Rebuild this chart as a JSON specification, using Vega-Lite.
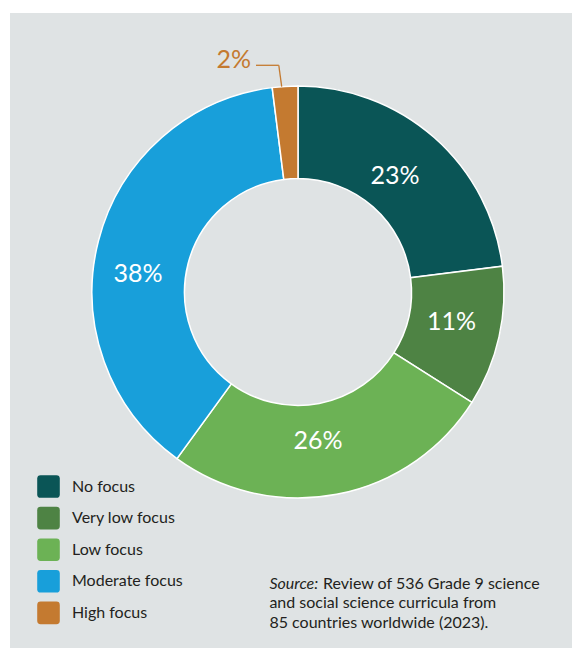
{
  "$schema": "https://vega.github.io/schema/vega-lite/v6.json",
  "width": 562,
  "height": 635,
  "autosize": "none",
  "padding": {"left": 10, "top": 13, "right": 1, "bottom": 0},
  "background": "white",
  "view": {"fill": "#dfe3e4", "stroke": null},
  "config": {
    "font": "Lato",
    "text": {"font": "Lato"}
  },
  "data": {
    "values": [
      {"category": "No focus", "rank": 1, "share": 0.23},
      {"category": "Very low focus", "rank": 2, "share": 0.11},
      {"category": "Low focus", "rank": 3, "share": 0.26},
      {"category": "Moderate focus", "rank": 4, "share": 0.38},
      {"category": "High focus", "rank": 5, "share": 0.02}
    ]
  },
  "layer": [
    {
      "mark": {"type": "arc", "radius": 206, "radius2": 113.5, "stroke": "white", "strokeWidth": 1.5},
      "encoding": {
        "x": {"datum": 0, "type": "quantitative", "scale": {"domain": [-1.39806, 1.3301], "nice": false, "zero": false}, "axis": null},
        "y": {"datum": 0, "type": "quantitative", "scale": {"domain": [-1.35437, 1.72816], "nice": false, "zero": false, "reverse": true}, "axis": null},
        "theta": {"field": "share", "type": "quantitative", "stack": true},
        "order": {"field": "rank", "type": "quantitative"},
        "color": {
          "field": "category",
          "type": "nominal",
          "scale": {
            "domain": ["No focus", "Very low focus", "Low focus", "Moderate focus", "High focus"],
            "range": ["#0a5556", "#4e8344", "#6cb255", "#189fda", "#c47a30"]
          },
          "legend": {
            "title": null,
            "orient": "none",
            "legendX": 27,
            "legendY": 462,
            "padding": 0,
            "symbolType": "M-1,-0.7 Q-1,-1 -0.7,-1 L0.7,-1 Q1,-1 1,-0.7 L1,0.7 Q1,1 0.7,1 L-0.7,1 Q-1,1 -1,0.7 Z",
            "symbolSize": 510,
            "symbolStrokeWidth": 0,
            "symbolOpacity": 1,
            "rowPadding": 8.6,
            "labelOffset": 12,
            "labelFont": "Lato",
            "labelFontSize": 16,
            "labelColor": "#231f20",
            "labelLimit": 300
          }
        }
      }
    },
    {
      "transform": [{"filter": "datum.category === 'No focus'"}],
      "mark": {"type": "text", "fontSize": 25, "color": "white", "align": "center", "baseline": "middle"},
      "encoding": {
        "x": {"datum": 0.4709, "type": "quantitative"},
        "y": {"datum": -0.5631, "type": "quantitative"},
        "text": {"field": "share", "type": "quantitative", "format": ".0%"}
      }
    },
    {
      "transform": [{"filter": "datum.category === 'Very low focus'"}],
      "mark": {"type": "text", "fontSize": 25, "color": "white", "align": "center", "baseline": "middle"},
      "encoding": {
        "x": {"datum": 0.7451, "type": "quantitative"},
        "y": {"datum": 0.1456, "type": "quantitative"},
        "text": {"field": "share", "type": "quantitative", "format": ".0%"}
      }
    },
    {
      "transform": [{"filter": "datum.category === 'Low focus'"}],
      "mark": {"type": "text", "fontSize": 25, "color": "white", "align": "center", "baseline": "middle"},
      "encoding": {
        "x": {"datum": 0.0971, "type": "quantitative"},
        "y": {"datum": 0.7233, "type": "quantitative"},
        "text": {"field": "share", "type": "quantitative", "format": ".0%"}
      }
    },
    {
      "transform": [{"filter": "datum.category === 'Moderate focus'"}],
      "mark": {"type": "text", "fontSize": 25, "color": "white", "align": "center", "baseline": "middle"},
      "encoding": {
        "x": {"datum": -0.7767, "type": "quantitative"},
        "y": {"datum": -0.0874, "type": "quantitative"},
        "text": {"field": "share", "type": "quantitative", "format": ".0%"}
      }
    },
    {
      "transform": [{"filter": "datum.category === 'High focus'"}],
      "mark": {"type": "text", "fontSize": 25, "color": "#c47a30", "align": "center", "baseline": "middle"},
      "encoding": {
        "x": {"datum": -0.3121, "type": "quantitative"},
        "y": {"datum": -1.1277, "type": "quantitative"},
        "text": {"field": "share", "type": "quantitative", "format": ".0%"}
      }
    },
    {
      "data": {"values": [{}]},
      "mark": {"type": "rule", "color": "#c47a30", "strokeWidth": 1.3},
      "encoding": {
        "x": {"datum": -0.2039, "type": "quantitative"},
        "x2": {"datum": -0.0932},
        "y": {"datum": -1.1005, "type": "quantitative"},
        "y2": {"datum": -1.1005}
      }
    },
    {
      "data": {"values": [{}]},
      "mark": {"type": "rule", "color": "#c47a30", "strokeWidth": 1.3},
      "encoding": {
        "x": {"datum": -0.0932, "type": "quantitative"},
        "x2": {"datum": -0.0791},
        "y": {"datum": -1.1005, "type": "quantitative"},
        "y2": {"datum": -0.9966}
      }
    },
    {
      "data": {"values": [{"t": "Source:"}]},
      "mark": {"type": "text", "fontSize": 16, "fontStyle": "italic", "color": "#231f20", "align": "left", "baseline": "alphabetic"},
      "encoding": {
        "x": {"datum": -0.1388, "type": "quantitative"},
        "y": {"datum": 1.4417, "type": "quantitative"},
        "text": {"field": "t"}
      }
    },
    {
      "data": {"values": [{"t": "Review of 536 Grade 9 science"}]},
      "mark": {"type": "text", "fontSize": 16, "color": "#231f20", "align": "left", "baseline": "alphabetic"},
      "encoding": {
        "x": {"datum": 0.1214, "type": "quantitative"},
        "y": {"datum": 1.4417, "type": "quantitative"},
        "text": {"field": "t"}
      }
    },
    {
      "data": {"values": [{"t": ["and social science curricula from", "85 countries worldwide (2023)."]}]},
      "mark": {"type": "text", "fontSize": 16, "lineHeight": 20, "color": "#231f20", "align": "left", "baseline": "alphabetic"},
      "encoding": {
        "x": {"datum": -0.1388, "type": "quantitative"},
        "y": {"datum": 1.534, "type": "quantitative"},
        "text": {"field": "t"}
      }
    }
  ]
}
